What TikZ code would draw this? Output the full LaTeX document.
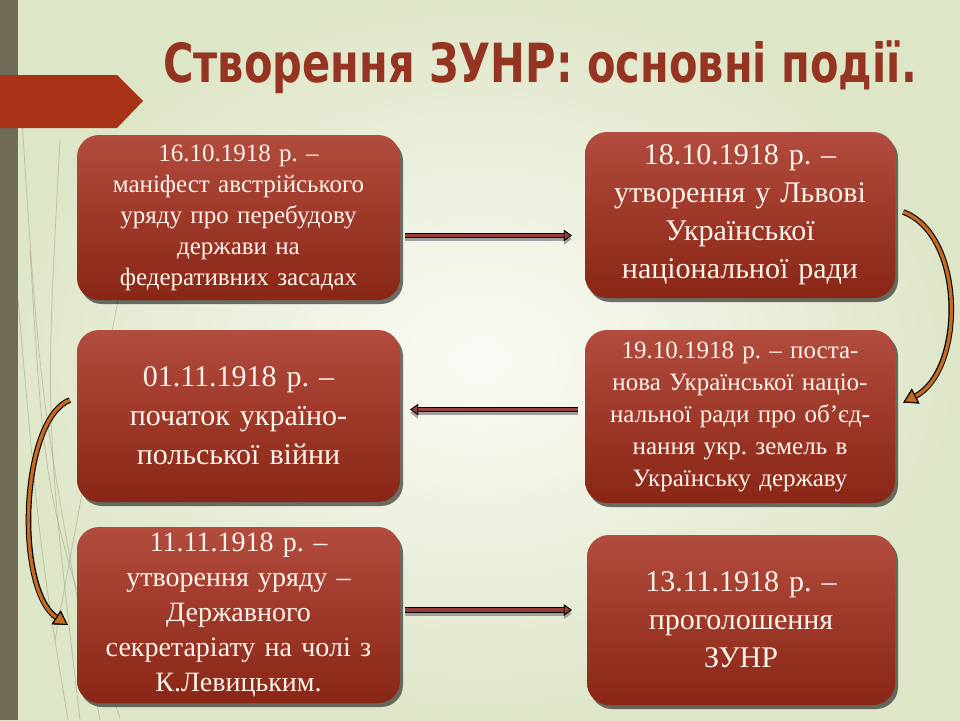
\documentclass[tikz,border=0pt]{standalone}
\usepackage{fontspec}
\setmainfont{Liberation Serif}
\newfontfamily\titlefont{DejaVu Sans}
\usetikzlibrary{arrows.meta,shadows}
\definecolor{bgin}{RGB}{251,251,246}
\definecolor{bgout}{RGB}{222,230,200}
\definecolor{barolive}{RGB}{112,107,86}
\definecolor{tagred}{RGB}{168,50,22}
\definecolor{titlered}{RGB}{150,52,34}
\definecolor{boxtop}{RGB}{178,76,62}
\definecolor{boxbot}{RGB}{138,38,22}
\definecolor{boxtext}{RGB}{252,244,236}
\definecolor{arrowred}{RGB}{152,62,58}
\definecolor{curveor}{RGB}{196,106,34}
\definecolor{wispline}{RGB}{150,146,120}
\tikzset{
  eventbox/.style={rounded corners=22pt, top color=boxtop, bottom color=boxbot,
    text=boxtext, align=center, inner sep=0pt, text width=#1,
    drop shadow={shadow xshift=3pt, shadow yshift=-4pt, fill=black, opacity=0.55}},
  linkarrow/.style={line width=3.4pt, draw=arrowred,
    -{Triangle[length=8pt,width=11pt,fill=arrowred,color=black,line width=0.8pt]},
    preaction={draw=gray!75, line width=4pt, -{Triangle[length=8pt,width=11pt]},
      transform canvas={yshift=-3.5pt}},
    preaction={draw=black, line width=5.2pt, -{Triangle[length=8pt,width=11pt]}}},
  curvearrow/.style={line width=3.4pt, draw=curveor,
    -{Triangle[length=14pt,width=16pt,fill=curveor,color=black,line width=1pt]},
    preaction={draw=black, line width=5.6pt, -{Triangle[length=14pt,width=16pt]}}},
  wisp/.style={draw=wispline, line width=0.8pt, opacity=0.45}
}
\begin{document}
\frenchspacing
\begin{tikzpicture}[x=1pt,y=-1pt]
  \useasboundingbox (0,0) rectangle (960,720);
  \shade[inner color=bgin, outer color=bgout] (0,0) rectangle (960,720);
  \fill[barolive] (0,0) rectangle (18,720);
  \draw[wisp] (22,120) .. controls (40,400) .. (100,720);
  \draw[wisp] (30,250) .. controls (45,500) .. (120,718);
  \draw[wisp] (18,300) .. controls (40,550) .. (68,720);
  \draw[wisp] (118,300) .. controls (90,450) .. (55,640);
  \draw[wisp] (60,140) .. controls (45,420) .. (80,720);
  \fill[tagred] (0,75) -- (117,75) -- (143,101) -- (117,128) -- (0,128) -- cycle;
  \node[anchor=base, text=titlered, inner sep=0pt,
    font=\titlefont\bfseries\fontsize{54}{60}\selectfont]
    (title) at (540,82) {\scalebox{0.77}[1]{Створення ЗУНР: основні події.}};

  \node[eventbox=312pt, minimum width=323pt, minimum height=165pt,
    font=\fontsize{25}{31}\selectfont] (ltop) at (238.5,217.5)
    {16.10.1918 р. –\\ маніфест австрійського\\ уряду про перебудову\\ держави на\\ федеративних засадах};
  \node[eventbox=300pt, minimum width=310pt, minimum height=166pt,
    font=\fontsize{30}{38}\selectfont] (rtop) at (740,215)
    {18.10.1918 р. –\\ утворення у Львові\\ Української\\ національної ради};
  \node[eventbox=312pt, minimum width=323pt, minimum height=172pt,
    font=\fontsize{30}{39}\selectfont] (lmid) at (238.5,416)
    {01.11.1918 р. –\\ початок україно-\\ польської війни};
  \node[eventbox=300pt, minimum width=310pt, minimum height=173pt,
    font=\fontsize{25}{32}\selectfont] (rmid) at (740,416.5)
    {19.10.1918 р. – поста-\\ нова Української націо-\\ нальної ради про об’єд-\\ нання укр. земель в\\ Українську державу};
  \node[eventbox=312pt, minimum width=323pt, minimum height=176pt,
    font=\fontsize{28}{35}\selectfont] (lbot) at (238.5,615)
    {11.11.1918 р. –\\ утворення уряду –\\ Державного\\ секретаріату на чолі з\\ К.Левицьким.};
  \node[eventbox=298pt, minimum width=308pt, minimum height=170pt,
    font=\fontsize{30}{38}\selectfont] (rbot) at (741,620)
    {13.11.1918 р. –\\ проголошення\\ ЗУНР};

  \draw[linkarrow, shorten <=5pt, shorten >=13pt]
    ([yshift=-18pt]ltop.east) -- ([yshift=-18pt]ltop.east -| rtop.west);
  \draw[linkarrow, shorten <=7pt, shorten >=10pt]
    ([yshift=7pt]rmid.west) -- ([yshift=7pt]rmid.west -| lmid.east);
  \draw[linkarrow, shorten <=5pt, shorten >=15pt]
    ([yshift=5pt]lbot.east) -- ([yshift=5pt]lbot.east -| rbot.west);
  \draw[curvearrow] ([xshift=8pt,yshift=3pt]rtop.east)
    .. controls +(62,23) and +(62,-32) .. ([xshift=8pt,yshift=14pt]rmid.east);
  \draw[curvearrow] ([xshift=-7pt,yshift=16pt]lmid.west)
    .. controls +(-50,20) and +(-53,-35) .. ([xshift=-9pt,yshift=-10pt]lbot.west);
\end{tikzpicture}
\end{document}
